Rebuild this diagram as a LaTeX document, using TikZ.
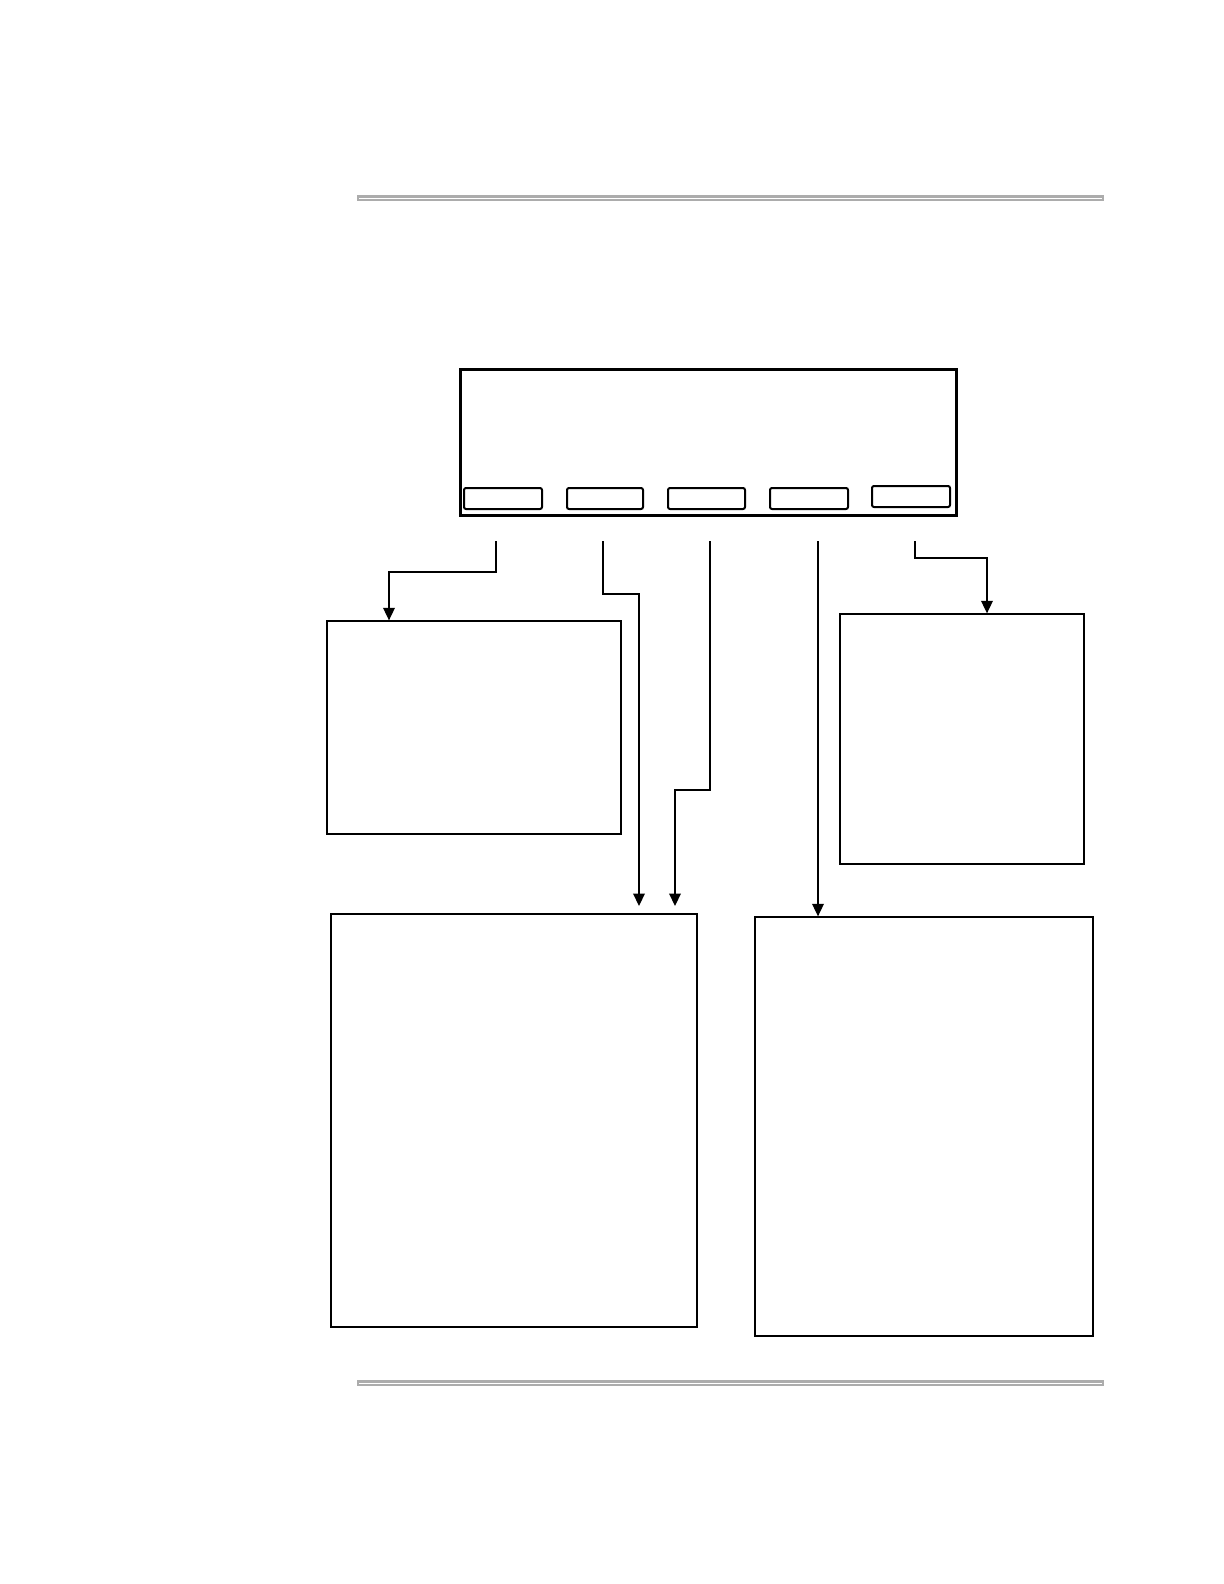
\documentclass[tikz,border=0pt]{standalone}
\usetikzlibrary{arrows.meta,fit}
\begin{document}
\begin{tikzpicture}[x=0.6pt,y=-0.6pt,
  box/.style={draw,line width=0.8pt,inner sep=0pt},
  screen/.style={draw,line width=1.8pt,inner sep=0pt},
  softkey/.style={draw,line width=1.2pt,rounded corners=1.2pt,inner sep=0pt},
  conn/.style={line width=0.8pt,-{Triangle[width=7pt,length=7.5pt]}},
  rulebar/.style={fill=gray!65,draw=none,inner sep=0pt},
  ruleline/.style={draw=white,line width=0.6pt}]
\useasboundingbox (0,0) rectangle (1224,1584);
% horizontal rules
\node[rulebar,fit={(357,195) (1104,200.5)}] (topRule) {};
\draw[ruleline] ([xshift=1.5pt,yshift=-0.5pt]topRule.west) -- ([xshift=-1.5pt,yshift=-0.5pt]topRule.east);
\node[rulebar,fit={(357,1380) (1104,1385.5)}] (botRule) {};
\draw[ruleline] ([xshift=1.5pt,yshift=-0.5pt]botRule.west) -- ([xshift=-1.5pt,yshift=-0.5pt]botRule.east);
% display
\node[screen,fit={(460,369) (956,515)}] (disp) {};
\node[softkey,fit={(464,488) (542,509)}] (k1) {};
\node[softkey,fit={(567,488) (643,509)}] (k2) {};
\node[softkey,fit={(668,488) (745,509)}] (k3) {};
\node[softkey,fit={(770,488) (848,509)}] (k4) {};
\node[softkey,fit={(872,486) (950,507)}] (k5) {};
% target boxes
\node[box,fit={(327,621) (621,834)}] (A) {};
\node[box,fit={(840,614) (1084,864)}] (B) {};
\node[box,fit={(331,914) (697,1327)}] (C) {};
\node[box,fit={(755,917) (1093,1336)}] (D) {};
% connector start points and bends
\coordinate (s1) at (496,541);
\coordinate (s2) at (603,541);
\coordinate (s3) at (710,541);
\coordinate (s4) at (818,541);
\coordinate (s5) at (915,541);
\coordinate (b1) at (496,572);
\coordinate (t1) at (389,572);
\coordinate (b2) at (603,594);
\coordinate (t2) at (639,594);
\coordinate (b3) at (710,790);
\coordinate (t3) at (675,790);
\coordinate (b5) at (915,558);
\coordinate (t5) at (987,558);
\coordinate (e2) at (639,906);
\coordinate (e3) at (675,906);
% connectors
\draw[conn] (s1) -- (b1) -- (t1) -- (t1 |- A.north);
\draw[conn] (s2) -- (b2) -- (t2) -- (e2);
\draw[conn] (s3) -- (b3) -- (t3) -- (e3);
\draw[conn] (s4) -- (s4 |- D.north);
\draw[conn] (s5) -- (b5) -- (t5) -- (t5 |- B.north);
\end{tikzpicture}
\end{document}
